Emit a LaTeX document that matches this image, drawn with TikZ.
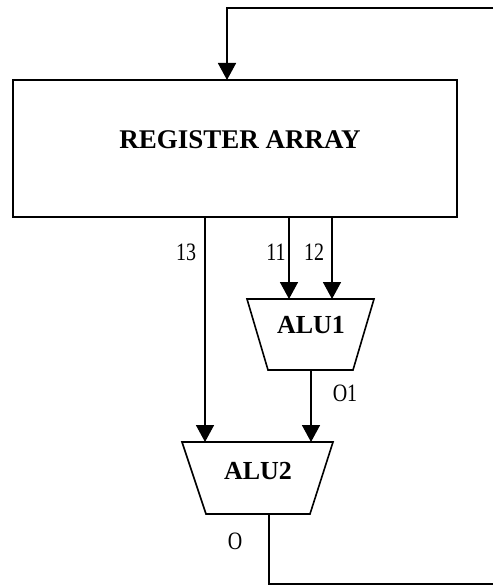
\documentclass[tikz,border=0pt]{standalone}
\usepackage{fontspec}
\setmainfont{Liberation Serif}
\usetikzlibrary{arrows.meta}
\begin{document}
\begin{tikzpicture}[x=1pt,y=-1pt,
  wire/.style={line width=1.6pt},
  feed/.style={wire,-{Triangle[width=18pt,length=17pt]}},
  blockbox/.style={draw,line width=1.6pt,minimum width=444pt,minimum height=137pt,inner sep=0pt},
  alushape/.style={draw,line width=1.6pt,line join=miter},
  bigtext/.style={font=\bfseries\fontsize{27}{27}\selectfont,inner sep=0pt},
  alutext/.style={font=\bfseries\fontsize{26}{26}\selectfont,inner sep=0pt},
  pinlabel/.style={font=\fontsize{25}{25}\selectfont,xscale=0.8,inner sep=0pt}]
\useasboundingbox (0,0) rectangle (493,586);
\fill[white] (0,0) rectangle (493,586);

% register array
\node[blockbox] (reg) at (235,148.5) {};
\node[bigtext] (regtext) at (240,140) {REGISTER ARRAY};

% ALU1 trapezoid
\draw[alushape] (247,299) -- (374,299) -- (353,370) -- (268,370) -- cycle;
\node[alutext] (alu1) at (311,325) {ALU1};
% ALU2 trapezoid
\draw[alushape] (182,442) -- (333,442) -- (310,514) -- (206,514) -- cycle;
\node[alutext] (alu2) at (258,471) {ALU2};

% ports
\coordinate (r13) at (205,217);
\coordinate (r11) at (289,217);
\coordinate (r12) at (332,217);
\coordinate (a1in1) at (289,299);
\coordinate (a1in2) at (332,299);
\coordinate (a1out) at (311,370);
\coordinate (a2in1) at (205,442);
\coordinate (a2in2) at (311,442);
\coordinate (a2out) at (269,514);
\coordinate (regin) at (227,80);
\coordinate (fbtop) at (493,8);
\coordinate (fbbot) at (493,584);

% connections
\draw[feed] (r13) -- (a2in1);
\draw[feed] (r11) -- (a1in1);
\draw[feed] (r12) -- (a1in2);
\draw[feed] (a1out) -- (a2in2);
\draw[wire] (a2out) |- (fbbot);
\draw[feed] (fbtop) -| (regin);

% signal labels
\node[pinlabel] (l13) at (186,252) {13};
\node[pinlabel] (l11) at (276,252) {11};
\node[pinlabel] (l12) at (314,252) {12};
\node[pinlabel] (lo1) at (345,393) {O1};
\node[pinlabel] (lo) at (235,541) {O};
\end{tikzpicture}
\end{document}
